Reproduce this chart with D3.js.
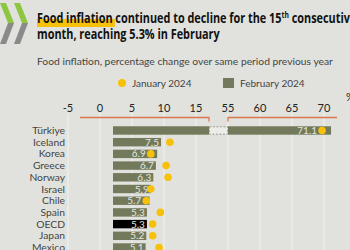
<!DOCTYPE html>
<html>
<head>
<meta charset="utf-8">
<script src="https://cdn.jsdelivr.net/npm/d3@7"></script>
<style>
  body { margin: 0; background: #e1e2dd; }
  svg { display: block; }
</style>
</head>
<body>
<div id="chart"></div>
<script>
// data
var countries = ["Türkiye", "Iceland", "Korea", "Greece", "Norway", "Israel", "Chile", "Spain", "OECD", "Japan", "Mexico"];
var feb2024 = [71.1, 7.5, 6.9, 6.7, 6.3, 5.9, 5.7, 5.3, 5.3, 5.2, 5.1];
var jan2024 = [69.7, 8.9, 5.9, 8.3, 8.6, 5.9, 5.2, 7.4, 6.2, 6.2, 7.2];
var leftTicks = [-5, 0, 5, 10, 15];
var rightTicks = [55, 60, 65, 70];

var width = 350, height = 250;
var font = "Lato, 'Open Sans', sans-serif";

var svg = d3.select("#chart")
    .append("svg")
    .attr("width", width)
    .attr("height", height);

svg.append("rect")
    .attr("width", width)
    .attr("height", height)
    .attr("fill", "#e1e2dd");

// logo
var logo = svg.append("g");
[0, 14].forEach(function(dx) {
    logo.append("path")
        .attr("d", "M" + dx + ",3 L" + (dx + 6) + ",3 L" + (dx + 14) + ",23 L" + (dx + 8) + ",23 Z")
        .attr("fill", "#8dc63f");
    logo.append("path")
        .attr("d", "M" + (dx + 8) + ",23 L" + (dx + 14) + ",23 L" + (dx + 6) + ",44 L" + dx + ",44 Z")
        .attr("fill", "#8a8a8a");
});

// title (squeezed horizontally to match the condensed face)
var titleG = svg.append("g");
var hl = titleG.append("rect")
    .attr("x", 0).attr("y", 19)
    .attr("height", 8)
    .attr("fill", "#f7c10a");

var t1 = titleG.append("text")
    .attr("x", 0).attr("y", 23)
    .attr("font-family", "'Open Sans', sans-serif")
    .attr("font-weight", "bold")
    .attr("font-size", "14.5px")
    .attr("fill", "#111");
var food = t1.append("tspan").text("Food inflation");
t1.append("tspan").text(" continued to decline for the 15");
t1.append("tspan").attr("dy", -5).attr("font-size", "9px").text("th");
t1.append("tspan").attr("dy", 5).text(" consecutive");

var t2 = titleG.append("text")
    .attr("x", 0).attr("y", 39)
    .attr("font-family", "'Open Sans', sans-serif")
    .attr("font-weight", "bold")
    .attr("font-size", "14.5px")
    .attr("fill", "#111")
    .text("month, reaching 5.3% in February");

var sx = 183 / t2.node().getComputedTextLength();
hl.attr("width", food.node().getComputedTextLength() + 3);
titleG.attr("transform", "translate(37,0) scale(" + sx + ",1)");

svg.append("text")
    .attr("x", 37).attr("y", 65)
    .attr("font-family", font)
    .attr("font-size", "10.3px")
    .attr("fill", "#444")
    .text("Food inflation, percentage change over same period previous year");

// legend
svg.append("circle")
    .attr("cx", 122).attr("cy", 83).attr("r", 4)
    .attr("fill", "#f7c10a");
svg.append("text")
    .attr("x", 132).attr("y", 87)
    .attr("font-family", font)
    .attr("font-size", "10px")
    .attr("fill", "#444")
    .text("January 2024");
svg.append("rect")
    .attr("x", 223).attr("y", 78).attr("width", 11).attr("height", 10)
    .attr("fill", "#737a5c");
svg.append("text")
    .attr("x", 240).attr("y", 87)
    .attr("font-family", font)
    .attr("font-size", "10px")
    .attr("fill", "#444")
    .text("February 2024");

// scales
var xTick = d3.scaleLinear().domain([-5, 15]).range([68, 196]);
var xL = d3.scaleLinear().domain([0, 15]).range([113, 209]);
var xR = d3.scaleLinear().domain([55, 70]).range([228, 324]);
var y = d3.scaleBand().domain(countries).range([123, 255]).padding(0.28);

var rows = countries.map(function(c, i) {
    return { country: c, feb: feb2024[i], jan: jan2024[i] };
});

function xv(v) { return v > 15 ? xR(v) : xL(v); }

// gridlines
var grid = svg.append("g");
grid.selectAll("line.l")
    .data(leftTicks).enter().append("line")
    .attr("x1", function(d) { return xTick(d); })
    .attr("x2", function(d) { return xTick(d); })
    .attr("y1", 113).attr("y2", height)
    .attr("stroke", "#f2f2ef").attr("stroke-width", 1);
grid.selectAll("line.r")
    .data(rightTicks).enter().append("line")
    .attr("x1", function(d) { return xR(d); })
    .attr("x2", function(d) { return xR(d); })
    .attr("y1", 113).attr("y2", height)
    .attr("stroke", "#f2f2ef").attr("stroke-width", 1);

// tick labels
svg.selectAll("text.tl")
    .data(leftTicks).enter().append("text")
    .attr("x", function(d) { return xTick(d); })
    .attr("y", 112)
    .attr("text-anchor", "middle")
    .attr("font-family", font)
    .attr("font-size", "11px")
    .attr("fill", "#222")
    .text(function(d) { return d; });
svg.selectAll("text.tr")
    .data(rightTicks).enter().append("text")
    .attr("x", function(d) { return xR(d); })
    .attr("y", 112)
    .attr("text-anchor", "middle")
    .attr("font-family", font)
    .attr("font-size", "11px")
    .attr("fill", "#222")
    .text(function(d) { return d; });
svg.append("text")
    .attr("x", 346).attr("y", 101)
    .attr("font-family", font)
    .attr("font-size", "11px")
    .attr("fill", "#222")
    .text("%");

// broken axis line
svg.append("path")
    .attr("d", "M80,117.5 H" + xL(15) + " V121.5")
    .attr("fill", "none").attr("stroke", "#d7784f").attr("stroke-width", 1.3);
svg.append("path")
    .attr("d", "M" + xR(55) + ",121.5 V117.5 H337")
    .attr("fill", "none").attr("stroke", "#d7784f").attr("stroke-width", 1.3);

// category labels
svg.selectAll("text.cat")
    .data(rows).enter().append("text")
    .attr("x", 65)
    .attr("y", function(d) { return y(d.country) + y.bandwidth() / 2 + 3.5; })
    .attr("text-anchor", "end")
    .attr("font-family", font)
    .attr("font-size", "10.3px")
    .attr("fill", "#444")
    .text(function(d) { return d.country; });

// bars
var bars = svg.append("g");
bars.selectAll("rect")
    .data(rows).enter().append("rect")
    .attr("x", xL(0))
    .attr("y", function(d) { return y(d.country); })
    .attr("width", function(d) { return Math.min(xL(d.feb), xL(15)) - xL(0); })
    .attr("height", y.bandwidth())
    .attr("fill", function(d) { return d.country === "OECD" ? "#000" : "#737a5c"; });

// broken bar continuation
var big = rows.filter(function(d) { return d.feb > 15; });
bars.selectAll("rect.gap")
    .data(big).enter().append("rect")
    .attr("x", xL(15) + 0.5)
    .attr("y", function(d) { return y(d.country) + 0.5; })
    .attr("width", xR(55) - xL(15) - 1)
    .attr("height", y.bandwidth() - 1)
    .attr("fill", "#ecece8")
    .attr("stroke", "#999")
    .attr("stroke-dasharray", "2,1.5")
    .attr("stroke-width", 1);
bars.selectAll("rect.cont")
    .data(big).enter().append("rect")
    .attr("x", xR(55))
    .attr("y", function(d) { return y(d.country); })
    .attr("width", function(d) { return xR(d.feb) - xR(55); })
    .attr("height", y.bandwidth())
    .attr("fill", "#737a5c");

// value labels, kept clear of a dot that sits inside the bar
svg.selectAll("text.val")
    .data(rows).enter().append("text")
    .attr("x", function(d) {
        var end = xv(d.feb) - 2, dot = xv(d.jan);
        return dot < end ? Math.min(end, dot - 5) : end;
    })
    .attr("y", function(d) { return y(d.country) + y.bandwidth() / 2 + 3.5; })
    .attr("text-anchor", "end")
    .attr("font-family", font)
    .attr("font-size", "10px")
    .attr("fill", "#e6e6de")
    .text(function(d) { return d.feb.toFixed(1); });

// January dots
svg.selectAll("circle.jan")
    .data(rows).enter().append("circle")
    .attr("cx", function(d) { return xv(d.jan); })
    .attr("cy", function(d) { return y(d.country) + y.bandwidth() / 2; })
    .attr("r", 3.8)
    .attr("fill", "#f7c10a");
</script>
</body>
</html>
